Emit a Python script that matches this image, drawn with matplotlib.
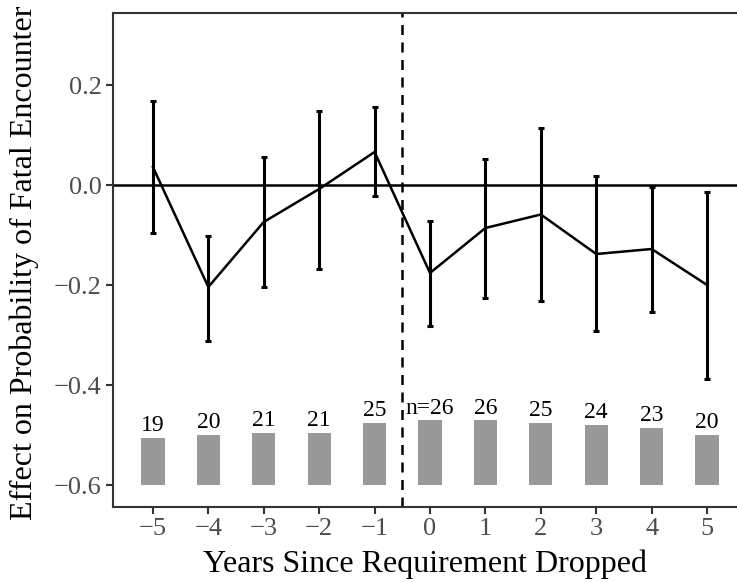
import matplotlib
matplotlib.use("Agg")
import matplotlib.pyplot as plt

#%% Data.
years = [-5, -4, -3, -2, -1, 0, 1, 2, 3, 4, 5]
effect = [0.036, -0.204, -0.074, -0.008, 0.066, -0.176, -0.086, -0.059, -0.138, -0.128, -0.200]
ci_low = [-0.096, -0.312, -0.204, -0.168, -0.022, -0.282, -0.226, -0.231, -0.292, -0.253, -0.388]
ci_high = [0.169, -0.102, 0.056, 0.149, 0.157, -0.071, 0.052, 0.114, 0.018, -0.003, -0.014]
n_obs = [19, 20, 21, 21, 25, 26, 26, 25, 24, 23, 20]
n_labels = ["19", "20", "21", "21", "25", "n=26", "26", "25", "24", "23", "20"]

# bars for n sit on a baseline of -0.6, 0.005 per observation
bar_base = -0.6
bar_scale = 0.005

#%% Plot.
plt.rcParams['font.family'] = ['Liberation Serif', 'DejaVu Serif']

fig = plt.figure(figsize=(7.37, 5.82), dpi=100)
ax = fig.add_axes([113 / 737, 75 / 582, 624 / 737, 494 / 582])

bar_heights = [n * bar_scale for n in n_obs]
ax.bar(years, bar_heights, bottom=bar_base, width=0.42, color="#999999", zorder=1)
for x, h, lab in zip(years, bar_heights, n_labels):
    ax.text(x, bar_base + h + 0.013, lab, ha="center", va="baseline",
            fontsize=17, color="black")

# zero line and the drop point
ax.axhline(0, color="black", lw=1.8, zorder=2)
ax.axvline(-0.5, color="black", lw=1.8, ls=(0, (4, 3)), zorder=2)

# estimates with CIs
yerr = [[e - lo for e, lo in zip(effect, ci_low)],
        [hi - e for e, hi in zip(effect, ci_high)]]
ax.errorbar(years, effect, yerr=yerr, color="black", lw=1.8, elinewidth=2.2,
            capsize=2.5, capthick=2.2, zorder=3)

ax.set_xlim(-5.72, 5.54)
ax.set_ylim(-0.644, 0.344)
ax.set_xticks(years)
ax.set_yticks([-0.6, -0.4, -0.2, 0.0, 0.2])
ax.set_yticklabels(["\u22120.6", "\u22120.4", "\u22120.2", "0.0", "0.2"])
ax.set_xticklabels([str(y).replace("-", "\u2212") for y in years])
ax.tick_params(labelsize=19, colors="#333333", labelcolor="#4d4d4d",
               length=5, width=1.5, pad=3)

for side in ["left", "bottom", "top"]:
    ax.spines[side].set_color("#333333")
    ax.spines[side].set_linewidth(1.5)
ax.spines["right"].set_visible(False)

ax.set_xlabel("Years Since Requirement Dropped", fontsize=23, labelpad=7)
ax.set_ylabel("Effect on Probability of Fatal Encounter", fontsize=23)
ax.yaxis.set_label_coords(-0.118, 0.495)

fig.savefig("out.png", dpi=100)
